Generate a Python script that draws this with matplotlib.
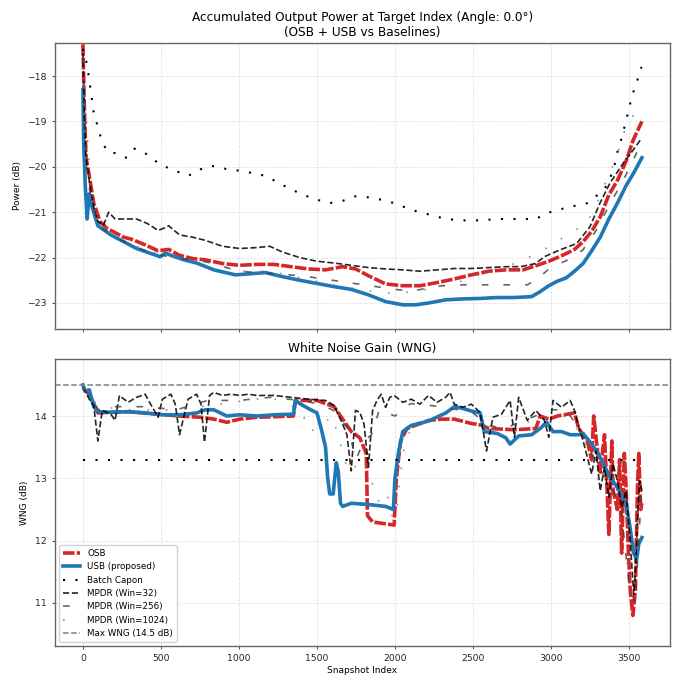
import numpy as np
import matplotlib
matplotlib.use("Agg")
import matplotlib.pyplot as plt

# ---- accumulated output power (dB) ----
osb_x = [0, 10, 20, 41, 69, 110, 151, 206, 261, 316, 399, 482, 550, 619, 702, 784, 894, 1004, 1114,
         1225, 1335, 1445, 1555, 1665, 1748, 1830, 1940, 2050, 2160, 2271, 2381, 2491, 2601, 2711,
         2821, 2903, 2986, 3068, 3151, 3206, 3261, 3316, 3371, 3426, 3481, 3527, 3583]
osb_pow = [-17.3, -18.8, -19.8, -20.2, -20.8, -21.2, -21.35, -21.45, -21.55, -21.6, -21.72, -21.85,
           -21.82, -21.95, -22.02, -22.05, -22.13, -22.17, -22.15, -22.15, -22.2, -22.25, -22.27,
           -22.2, -22.25, -22.4, -22.58, -22.62, -22.62, -22.55, -22.47, -22.38, -22.3, -22.27,
           -22.27, -22.18, -22.08, -21.96, -21.82, -21.65, -21.42, -21.1, -20.62, -20.3, -19.88,
           -19.41, -19.0]

usb_x = [0, 5, 15, 27, 40, 60, 96, 138, 179, 234, 289, 344, 427, 495, 530, 564, 647, 729, 839, 977,
         1059, 1170, 1280, 1390, 1500, 1610, 1720, 1830, 1940, 2050, 2133, 2216, 2326, 2436, 2546,
         2656, 2766, 2876, 2931, 2986, 3041, 3096, 3151, 3206, 3261, 3316, 3371, 3426, 3481, 3536, 3583]
usb_pow = [-18.3, -19.5, -20.4, -21.15, -20.6, -20.9, -21.3, -21.4, -21.5, -21.6, -21.7, -21.8, -21.9,
           -21.98, -21.9, -21.95, -22.05, -22.12, -22.27, -22.38, -22.36, -22.33, -22.42, -22.5,
           -22.57, -22.64, -22.7, -22.82, -22.97, -23.04, -23.04, -23.0, -22.93, -22.91, -22.9,
           -22.88, -22.88, -22.86, -22.75, -22.62, -22.52, -22.45, -22.3, -22.13, -21.85, -21.55,
           -21.15, -20.8, -20.42, -20.1, -19.8]

capon_x = [0, 15, 27, 41, 69, 110, 151, 206, 275, 330, 399, 495, 564, 674, 757, 826, 922, 1032, 1170,
           1335, 1472, 1582, 1665, 1748, 1858, 1996, 2106, 2216, 2326, 2436, 2546, 2656, 2766, 2903,
           2972, 3100, 3233, 3292, 3346, 3399, 3431, 3453, 3485, 3517, 3538, 3558, 3580]
capon_pow = [-17.4, -17.6, -17.75, -18.1, -18.8, -19.3, -19.65, -19.7, -19.8, -19.6, -19.7, -19.95,
             -20.05, -20.2, -20.05, -19.98, -20.05, -20.1, -20.2, -20.5, -20.7, -20.8, -20.75, -20.65,
             -20.68, -20.8, -20.95, -21.05, -21.15, -21.18, -21.18, -21.15, -21.15, -21.15, -21.02,
             -20.9, -20.8, -20.64, -20.47, -20.1, -19.6, -19.37, -18.93, -18.48, -18.24, -18.05, -17.8]

mpdr32_x = [0, 10, 20, 41, 70, 96, 130, 165, 206, 261, 344, 413, 482, 520, 550, 619, 702, 784, 894,
            1004, 1114, 1197, 1280, 1390, 1500, 1610, 1720, 1830, 1940, 2050, 2160, 2271, 2381, 2491,
            2601, 2711, 2807, 2903, 2958, 3058, 3165, 3250, 3314, 3378, 3463, 3527, 3575]
mpdr32_pow = [-17.5, -19.0, -19.8, -20.3, -20.9, -21.2, -21.3, -21.0, -21.15, -21.15, -21.15, -21.25,
              -21.4, -21.35, -21.3, -21.5, -21.55, -21.62, -21.75, -21.8, -21.78, -21.75, -21.88,
              -22.0, -22.08, -22.12, -22.17, -22.22, -22.25, -22.27, -22.3, -22.27, -22.24, -22.24,
              -22.22, -22.2, -22.2, -22.13, -21.98, -21.83, -21.69, -21.32, -20.8, -20.36, -19.92,
              -19.63, -19.4]

mpdr256_x = [0, 20, 50, 100, 200, 300, 400, 500, 600, 800, 1000, 1200, 1400, 1600, 1800, 1880, 2000,
             2100, 2200, 2300, 2450, 2588, 2700, 2850, 2929, 2994, 3109, 3205, 3292, 3335, 3399, 3463,
             3517, 3558, 3580]
mpdr256_pow = [-17.6, -19.9, -20.7, -21.3, -21.55, -21.7, -21.85, -21.95, -22.0, -22.1, -22.3, -22.35,
               -22.4, -22.5, -22.6, -22.64, -22.7, -22.74, -22.68, -22.62, -22.6, -22.6, -22.6, -22.6,
               -22.42, -22.23, -22.05, -21.83, -21.39, -21.1, -20.69, -20.3, -19.92, -19.63, -19.45]

mpdr1024_x = [0, 50, 100, 200, 400, 600, 800, 1000, 1200, 1400, 1600, 1800, 2000, 2200, 2400, 2600,
              2800, 2950, 3024, 3100, 3218, 3269, 3357, 3420, 3474, 3549, 3580]
mpdr1024_pow = [-17.8, -20.5, -21.2, -21.5, -21.85, -22.0, -22.1, -22.3, -22.3, -22.45, -22.6, -22.72,
                -22.8, -22.7, -22.55, -22.3, -22.1, -21.83, -21.69, -21.5, -21.28, -21.0, -20.3,
                -19.78, -19.19, -18.75, -18.6]

# ---- white noise gain (dB) ----
osb_wng_x = [0, 41, 96, 289, 619, 757, 839, 922, 1004, 1114, 1349, 1362, 1500, 1610, 1665, 1720, 1775,
             1816, 1824, 1857, 1940, 1995, 2009, 2036, 2077, 2216, 2298, 2381, 2491, 2560, 2601, 2766,
             2903, 2931, 2986, 3041, 3151, 3178, 3233, 3260, 3274, 3300, 3316, 3343, 3360, 3371, 3390,
             3398, 3426, 3440, 3453, 3470, 3481, 3495, 3508, 3525, 3541, 3555, 3563, 3575, 3583]
osb_wng = [14.45, 14.35, 14.05, 14.07, 14.0, 13.98, 13.95, 13.9, 13.95, 13.98, 14.0, 14.25, 14.25,
           14.15, 13.95, 13.75, 13.65, 13.4, 12.4, 12.3, 12.27, 12.25, 13.0, 13.6, 13.8, 13.93, 13.95,
           13.95, 13.88, 13.85, 13.8, 13.78, 13.8, 14.0, 13.95, 14.0, 14.05, 13.8, 13.6, 13.3, 14.0,
           13.4, 13.1, 13.7, 12.8, 12.1, 13.6, 12.8, 12.5, 13.3, 11.8, 13.4, 12.9, 11.9, 11.2, 10.8,
           11.2, 12.9, 13.4, 12.5, 12.6]

usb_wng_x = [0, 14, 41, 69, 96, 179, 289, 399, 509, 619, 729, 784, 839, 922, 1004, 1114, 1225, 1349,
             1362, 1390, 1445, 1500, 1527, 1555, 1569, 1582, 1604, 1624, 1637, 1651, 1665, 1720, 1830,
             1940, 1990, 2000, 2022, 2050, 2105, 2216, 2326, 2381, 2436, 2491, 2546, 2573, 2656, 2711,
             2738, 2793, 2876, 2931, 2972, 3013, 3068, 3123, 3178, 3206, 3261, 3302, 3343, 3371, 3426,
             3481, 3508, 3530, 3549, 3563, 3583]
usb_wng = [14.5, 14.4, 14.42, 14.15, 14.07, 14.06, 14.07, 14.05, 14.02, 14.02, 14.05, 14.1, 14.1, 14.0,
           14.02, 14.0, 14.02, 14.03, 14.25, 14.2, 14.12, 14.05, 13.8, 13.5, 13.0, 12.75, 12.75, 13.25,
           13.1, 12.6, 12.55, 12.6, 12.58, 12.55, 12.5, 13.0, 13.4, 13.75, 13.85, 13.92, 14.05, 14.15,
           14.12, 14.08, 14.05, 13.75, 13.72, 13.65, 13.55, 13.68, 13.7, 13.8, 13.9, 13.75, 13.75,
           13.7, 13.7, 13.72, 13.55, 13.4, 13.2, 13.05, 12.85, 12.6, 12.2, 11.8, 11.7, 11.95, 12.05]

capon_wng_x = [0, 3583]
capon_wng = [13.3, 13.3]

mpdr32_wng_x = [0, 41, 69, 96, 124, 179, 206, 234, 289, 344, 399, 427, 482, 509, 564, 592, 619, 674,
                729, 757, 779, 812, 839, 894, 949, 1004, 1059, 1114, 1225, 1335, 1445, 1555, 1610,
                1665, 1692, 1720, 1747, 1775, 1802, 1830, 1857, 1885, 1912, 1940, 1967, 1995, 2050,
                2105, 2160, 2215, 2270, 2325, 2353, 2380, 2435, 2490, 2545, 2587, 2628, 2683, 2738,
                2766, 2793, 2848, 2903, 2958, 2986, 3013, 3068, 3123, 3151, 3178, 3206, 3233, 3261,
                3288, 3316, 3343, 3371, 3398, 3426, 3453, 3481, 3508, 3530, 3541, 3558, 3569, 3583]
mpdr32_wng = [14.46, 14.27, 14.17, 13.6, 14.09, 14.03, 13.93, 14.33, 14.22, 14.3, 14.35, 14.22, 13.98,
              14.27, 14.35, 14.19, 13.7, 14.27, 14.35, 14.19, 13.58, 14.33, 14.38, 14.33, 14.35, 14.33,
              14.35, 14.33, 14.33, 14.3, 14.27, 14.25, 14.17, 13.87, 13.7, 13.12, 14.09, 14.06, 13.87,
              13.18, 14.09, 14.25, 14.35, 14.14, 14.3, 14.33, 14.22, 14.27, 14.19, 14.33, 14.22, 14.3,
              14.38, 14.19, 14.14, 14.19, 14.06, 13.44, 13.98, 14.03, 14.25, 13.66, 14.3, 13.93, 14.09,
              13.93, 13.66, 14.25, 14.14, 14.25, 14.09, 13.82, 13.6, 13.34, 13.07, 13.44, 12.8, 13.18,
              12.7, 13.23, 12.96, 12.53, 12.8, 12.0, 11.14, 11.47, 12.53, 12.96, 12.8]

mpdr256_wng_x = [0, 100, 200, 400, 600, 800, 1000, 1200, 1400, 1500, 1600, 1700, 1750, 1800, 1850,
                 1900, 2000, 2100, 2300, 2500, 2600, 2700, 2800, 2900, 3000, 3100, 3200, 3300, 3400,
                 3450, 3500, 3540, 3580]
mpdr256_wng = [14.45, 14.1, 14.15, 14.15, 14.1, 14.25, 14.25, 14.3, 14.25, 14.2, 14.1, 13.8, 13.3,
               13.6, 13.7, 14.1, 14.0, 14.2, 14.15, 14.05, 13.85, 13.8, 13.9, 14.0, 14.1, 14.1, 13.7,
               13.2, 12.8, 12.5, 11.3, 11.0, 12.8]

mpdr1024_wng_x = [0, 100, 300, 600, 900, 1200, 1400, 1450, 1500, 1600, 1700, 1800, 1900, 1950, 2000,
                  2050, 2100, 2300, 2500, 2700, 2900, 3100, 3200, 3300, 3400, 3500, 3580]
mpdr1024_wng = [14.45, 14.15, 14.1, 14.1, 14.2, 14.3, 14.1, 13.75, 13.8, 14.0, 13.1, 13.3, 12.6, 12.75,
                12.2, 13.4, 13.8, 14.0, 13.9, 13.75, 13.95, 14.0, 13.7, 13.0, 12.7, 11.5, 12.6]

max_wng = 14.5

# ---- figure ----
plt.rcParams['font.family'] = 'DejaVu Sans'
fig = plt.figure(figsize=(6.73, 6.77), dpi=100)
ax1 = fig.add_axes([55 / 673, 1 - 329 / 677, 615 / 673, 286 / 677])
ax2 = fig.add_axes([55 / 673, 1 - 646 / 677, 615 / 673, 287 / 677], sharex=ax1)

red = '#d62728'
blue = '#1f77b4'
styles = dict(
    osb=dict(color=red, lw=2.6, ls=(0, (3.2, 0.6)), label='OSB'),
    usb=dict(color=blue, lw=2.6, ls='-', label='USB (proposed)'),
    capon=dict(color='black', lw=1.5, ls=(0, (1, 5)), label='Batch Capon'),
    m32=dict(color='black', lw=1.2, ls='--', alpha=0.85, label='MPDR (Win=32)'),
    m256=dict(color='0.25', lw=1.2, ls=(0, (4, 9)), alpha=0.8, label='MPDR (Win=256)'),
    m1024=dict(color='0.45', lw=1.2, ls=(0, (1, 10)), alpha=0.8, label='MPDR (Win=1024)'),
)

ax1.plot(osb_x, osb_pow, **styles['osb'])
ax1.plot(usb_x, usb_pow, **styles['usb'])
ax1.plot(capon_x, capon_pow, **styles['capon'])
ax1.plot(mpdr32_x, mpdr32_pow, **styles['m32'])
ax1.plot(mpdr256_x, mpdr256_pow, **styles['m256'])
ax1.plot(mpdr1024_x, mpdr1024_pow, **styles['m1024'])

ax2.plot(osb_wng_x, osb_wng, **styles['osb'])
ax2.plot(usb_wng_x, usb_wng, **styles['usb'])
ax2.plot(capon_wng_x, capon_wng, **styles['capon'])
ax2.plot(mpdr32_wng_x, mpdr32_wng, **styles['m32'])
ax2.plot(mpdr256_wng_x, mpdr256_wng, **styles['m256'])
ax2.plot(mpdr1024_wng_x, mpdr1024_wng, **styles['m1024'])
ax2.axhline(max_wng, color='gray', ls='--', lw=1.1, label='Max WNG (14.5 dB)')

ax1.set_xlim(-179, 3763)
ax1.set_ylim(-23.573, -17.273)
ax2.set_ylim(10.31, 14.915)
ax1.set_xticks(np.arange(0, 3501, 500))
ax1.set_yticks([-18, -19, -20, -21, -22, -23])
ax2.set_yticks([11, 12, 13, 14])
ax1.tick_params(labelbottom=False)

ax1.set_title('Accumulated Output Power at Target Index (Angle: 0.0°)\n(OSB + USB vs Baselines)',
              fontsize=8.7, pad=5)
ax2.set_title('White Noise Gain (WNG)', fontsize=8.7, pad=5)
ax1.set_ylabel('Power (dB)', fontsize=6.5)
ax2.set_ylabel('WNG (dB)', fontsize=6.5)
ax2.set_xlabel('Snapshot Index', fontsize=6.5, labelpad=2)

for ax in (ax1, ax2):
    ax.grid(True, ls='--', lw=0.6, alpha=0.35)
    ax.tick_params(labelsize=6.7, length=2.5, width=0.7, colors='0.3', labelcolor='0.15')
    for sp in ax.spines.values():
        sp.set_color('0.4')
        sp.set_linewidth(1.0)

ax2.legend(loc='lower left', fontsize=6.3, framealpha=0.85, borderaxespad=0.5)

fig.savefig('out.png', dpi=100)
